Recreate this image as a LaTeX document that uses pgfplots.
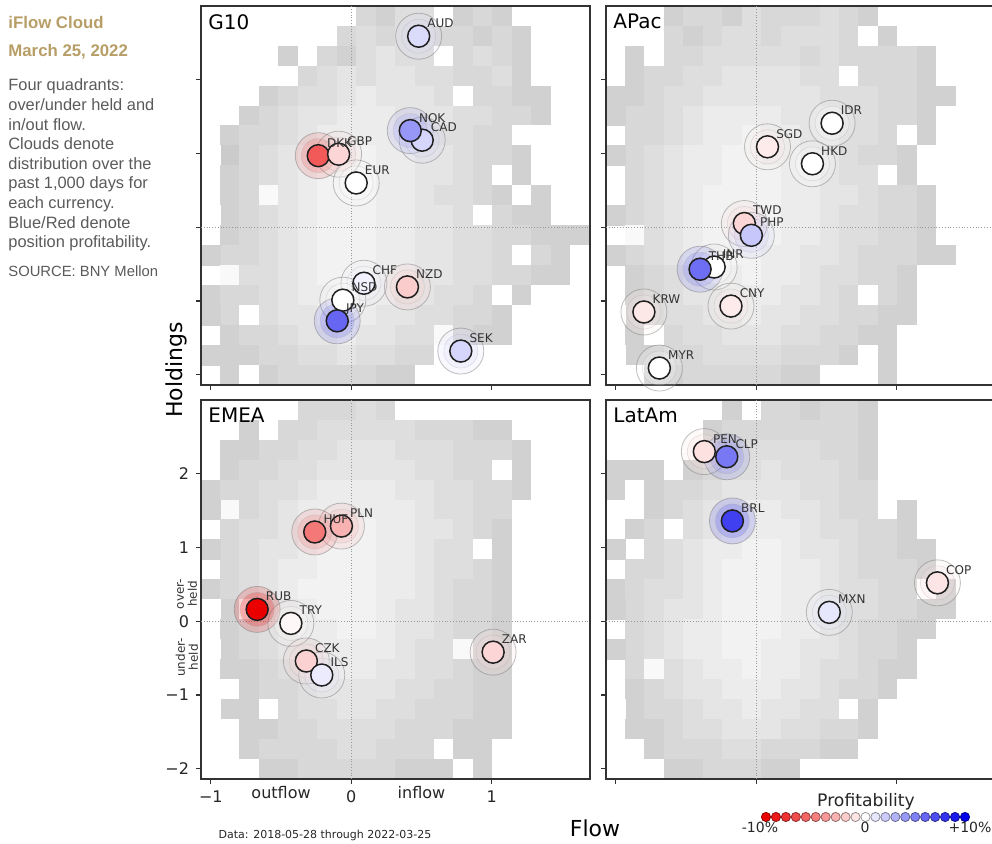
\documentclass[border=0pt]{standalone}
\usepackage{pgfplots}
\pgfplotsset{compat=1.18}
\usepackage{pgfplotstable}
\usepackage{fontspec}
\setmainfont{DejaVu Sans}
\newfontfamily\lib{Liberation Sans}
\definecolor{gold}{RGB}{183,158,103}
\definecolor{txtgray}{RGB}{90,90,90}
\definecolor{axgray}{RGB}{50,50,50}

% ---------- bubble data: x = flow, y = holdings, p = profitability (%) ----------
\pgfplotstableread{
x y p lab
0.48 2.59 1.4 AUD
0.505 1.18 1.6 CAD
0.42 1.31 4.1 NOK
-0.235 0.97 -6.5 DKK
-0.09 0.99 -1.6 GBP
0.035 0.60 0 EUR
0.09 -0.76 0.5 CHF
0.40 -0.81 -2.0 NZD
-0.06 -0.99 0 NSD
-0.10 -1.27 6.0 JPY
0.78 -1.68 1.6 SEK
}\bubG
\pgfplotstableread{
x y p lab
0.54 1.41 0 IDR
0.08 1.09 -0.8 SGD
0.40 0.86 0 HKD
-0.085 0.05 -1.6 TWD
-0.035 -0.11 2.2 PHP
-0.30 -0.54 0 INR
-0.40 -0.57 5.7 THB
-0.18 -1.07 -0.8 CNY
-0.80 -1.15 -0.9 KRW
-0.69 -1.91 0 MYR
}\bubA
\pgfplotstableread{
x y p lab
-0.07 1.29 -3.0 PLN
-0.26 1.21 -5.3 HUF
-0.67 0.16 -10 RUB
-0.43 -0.03 -0.3 TRY
-0.32 -0.54 -1.8 CZK
-0.21 -0.73 0.8 ILS
1.01 -0.42 -1.6 ZAR
}\bubE
\pgfplotstableread{
x y p lab
-0.37 2.30 -1.2 PEN
-0.21 2.23 5.3 CLP
-0.17 1.36 7.5 BRL
1.29 0.52 -1.0 COP
0.52 0.12 1.0 MXN
}\bubL

% ---------- cloud data: 20 columns x 19 rows, top row first (9 = empty) ----------
\pgfplotstableread[row sep=\\]{
c\\
9\\9\\9\\9\\9\\9\\9\\9\\3\\2\\4\\4\\9\\2\\3\\2\\9\\9\\9\\9\\
9\\9\\9\\9\\9\\9\\9\\3\\4\\3\\4\\4\\3\\3\\2\\3\\2\\9\\9\\9\\
9\\9\\9\\9\\2\\9\\3\\2\\4\\5\\4\\4\\9\\3\\4\\3\\2\\9\\9\\9\\
9\\9\\9\\9\\9\\3\\4\\5\\4\\5\\5\\4\\4\\3\\3\\4\\2\\9\\9\\9\\
9\\9\\9\\2\\3\\4\\4\\5\\6\\5\\5\\5\\4\\9\\3\\3\\2\\2\\9\\9\\
9\\9\\2\\3\\4\\5\\5\\6\\6\\6\\5\\5\\5\\4\\4\\3\\3\\2\\9\\9\\
9\\2\\3\\3\\4\\5\\6\\6\\6\\6\\6\\5\\4\\4\\3\\3\\9\\9\\9\\9\\
9\\1\\3\\4\\5\\6\\6\\6\\7\\6\\6\\5\\5\\4\\3\\3\\2\\9\\9\\9\\
9\\2\\3\\4\\5\\6\\7\\7\\7\\6\\6\\5\\5\\4\\3\\9\\2\\9\\9\\9\\
9\\2\\3\\8\\5\\6\\7\\7\\7\\6\\6\\5\\4\\4\\3\\2\\9\\2\\9\\9\\
9\\2\\3\\4\\5\\6\\7\\7\\7\\6\\6\\5\\5\\4\\9\\3\\2\\2\\9\\9\\
9\\2\\3\\4\\5\\6\\7\\7\\7\\6\\6\\5\\5\\4\\4\\3\\3\\2\\2\\2\\
2\\3\\3\\4\\5\\6\\7\\7\\7\\6\\6\\5\\5\\4\\4\\3\\9\\3\\2\\9\\
2\\8\\4\\4\\5\\6\\7\\7\\7\\6\\6\\5\\5\\4\\4\\3\\3\\2\\2\\9\\
2\\3\\3\\4\\5\\6\\6\\7\\6\\6\\5\\5\\4\\4\\3\\9\\2\\9\\9\\9\\
2\\3\\9\\4\\5\\5\\6\\6\\6\\5\\5\\4\\4\\3\\3\\2\\9\\9\\9\\9\\
2\\2\\3\\3\\4\\5\\5\\6\\5\\5\\4\\4\\8\\3\\2\\2\\9\\9\\9\\9\\
2\\2\\2\\3\\3\\4\\4\\5\\4\\4\\3\\3\\9\\9\\9\\9\\9\\9\\9\\9\\
2\\2\\9\\2\\3\\3\\3\\3\\3\\2\\2\\9\\9\\9\\9\\9\\9\\9\\9\\9\\
}\cloudG
\pgfplotstableread[row sep=\\]{
c\\
9\\9\\9\\2\\3\\3\\2\\4\\3\\3\\3\\4\\3\\2\\9\\9\\9\\9\\9\\9\\
9\\9\\9\\3\\2\\3\\4\\4\\3\\4\\4\\4\\3\\9\\2\\9\\9\\9\\9\\9\\
9\\2\\9\\3\\3\\4\\4\\4\\4\\4\\3\\4\\3\\3\\3\\3\\2\\9\\9\\9\\
9\\2\\3\\3\\4\\4\\5\\5\\5\\5\\4\\4\\9\\3\\3\\3\\2\\9\\9\\9\\
2\\2\\3\\4\\4\\5\\5\\5\\5\\5\\5\\4\\4\\4\\3\\3\\2\\2\\9\\9\\
2\\3\\3\\4\\5\\6\\6\\6\\6\\5\\5\\5\\4\\4\\3\\3\\2\\9\\9\\9\\
2\\3\\3\\4\\5\\6\\6\\7\\6\\6\\5\\5\\4\\4\\3\\9\\2\\9\\9\\9\\
2\\3\\4\\5\\6\\6\\7\\7\\6\\6\\5\\5\\4\\3\\3\\2\\9\\9\\9\\9\\
2\\3\\4\\5\\6\\6\\7\\7\\7\\6\\6\\5\\4\\4\\9\\2\\9\\9\\9\\9\\
9\\3\\4\\5\\6\\7\\7\\7\\7\\6\\6\\5\\5\\4\\3\\3\\2\\9\\9\\9\\
9\\3\\4\\5\\6\\7\\7\\7\\7\\6\\6\\5\\4\\4\\3\\3\\2\\9\\9\\9\\
2\\8\\4\\5\\6\\7\\7\\7\\7\\6\\6\\5\\4\\4\\3\\3\\2\\9\\9\\9\\
2\\3\\4\\5\\6\\6\\7\\7\\6\\6\\5\\5\\4\\3\\3\\3\\2\\2\\9\\9\\
2\\2\\3\\4\\5\\6\\6\\7\\6\\6\\5\\4\\4\\3\\3\\2\\9\\9\\9\\9\\
9\\2\\3\\4\\5\\5\\6\\6\\6\\5\\5\\4\\3\\9\\3\\2\\9\\9\\9\\9\\
9\\2\\3\\4\\4\\5\\5\\6\\5\\5\\4\\4\\3\\3\\2\\2\\9\\9\\9\\9\\
9\\2\\9\\3\\4\\4\\5\\5\\5\\4\\4\\3\\3\\2\\2\\9\\9\\9\\9\\9\\
9\\2\\2\\3\\3\\4\\4\\4\\4\\3\\3\\3\\2\\9\\2\\9\\9\\9\\9\\9\\
9\\9\\2\\2\\3\\3\\3\\3\\3\\2\\2\\9\\9\\9\\2\\9\\9\\9\\9\\9\\
}\cloudA
\pgfplotstableread[row sep=\\]{
c\\
9\\9\\9\\9\\9\\3\\3\\3\\4\\3\\9\\9\\9\\9\\9\\9\\9\\9\\9\\9\\
9\\9\\2\\9\\3\\3\\4\\4\\4\\4\\4\\3\\3\\3\\2\\2\\9\\9\\9\\9\\
9\\2\\2\\3\\3\\4\\4\\5\\5\\5\\4\\4\\4\\3\\3\\3\\2\\9\\9\\9\\
9\\2\\3\\3\\4\\4\\5\\5\\5\\5\\5\\4\\4\\3\\3\\9\\2\\9\\9\\9\\
2\\3\\3\\4\\4\\5\\6\\6\\6\\6\\5\\5\\4\\4\\3\\3\\2\\9\\9\\9\\
2\\8\\3\\4\\5\\6\\6\\6\\6\\6\\6\\5\\4\\4\\3\\3\\9\\9\\9\\9\\
2\\3\\4\\4\\5\\6\\6\\7\\7\\6\\6\\5\\5\\4\\3\\2\\9\\9\\9\\9\\
2\\3\\4\\5\\5\\6\\7\\7\\7\\6\\6\\5\\4\\4\\9\\2\\9\\9\\9\\9\\
2\\3\\4\\5\\6\\6\\7\\7\\7\\6\\6\\5\\4\\4\\3\\2\\9\\9\\9\\9\\
2\\3\\4\\5\\6\\7\\7\\7\\7\\6\\6\\5\\4\\3\\3\\2\\9\\9\\9\\9\\
9\\2\\9\\4\\5\\6\\7\\7\\7\\6\\5\\5\\4\\3\\3\\2\\9\\9\\9\\9\\
9\\2\\3\\4\\5\\6\\6\\7\\7\\6\\5\\5\\4\\3\\3\\2\\9\\9\\9\\9\\
9\\2\\3\\4\\5\\5\\6\\6\\6\\6\\5\\4\\4\\8\\3\\2\\9\\9\\9\\9\\
9\\2\\2\\3\\4\\5\\5\\6\\6\\5\\5\\4\\4\\3\\2\\2\\9\\9\\9\\9\\
9\\9\\2\\3\\3\\4\\5\\5\\5\\5\\4\\4\\3\\3\\2\\2\\9\\9\\9\\9\\
9\\2\\2\\9\\3\\4\\4\\5\\5\\4\\4\\3\\3\\3\\2\\2\\9\\9\\9\\9\\
9\\9\\2\\2\\3\\3\\4\\4\\4\\4\\3\\3\\3\\2\\2\\2\\9\\9\\9\\9\\
9\\9\\2\\3\\3\\3\\3\\4\\4\\3\\3\\3\\9\\2\\2\\9\\9\\9\\9\\9\\
9\\9\\9\\2\\2\\3\\3\\3\\3\\3\\2\\2\\2\\9\\2\\9\\9\\9\\9\\9\\
}\cloudE
\pgfplotstableread[row sep=\\]{
c\\
9\\9\\9\\9\\9\\9\\2\\9\\3\\3\\2\\3\\3\\2\\9\\9\\9\\9\\9\\9\\
9\\9\\9\\9\\9\\2\\3\\3\\3\\3\\3\\3\\3\\2\\9\\9\\9\\9\\9\\9\\
9\\9\\9\\9\\9\\3\\3\\4\\4\\4\\4\\3\\3\\2\\9\\9\\9\\9\\9\\9\\
2\\2\\2\\9\\2\\3\\4\\4\\5\\4\\4\\4\\3\\2\\9\\9\\9\\9\\9\\9\\
2\\9\\2\\3\\3\\4\\5\\5\\5\\5\\4\\4\\3\\3\\9\\9\\9\\9\\9\\9\\
9\\9\\2\\3\\4\\5\\5\\6\\6\\5\\5\\4\\3\\3\\9\\2\\9\\9\\9\\9\\
9\\2\\3\\9\\4\\5\\6\\6\\6\\6\\5\\4\\4\\3\\3\\2\\9\\9\\9\\9\\
2\\9\\3\\4\\5\\6\\6\\7\\7\\6\\5\\5\\4\\3\\3\\2\\2\\9\\9\\9\\
2\\3\\3\\4\\5\\6\\7\\7\\7\\6\\6\\5\\4\\3\\3\\3\\2\\9\\9\\9\\
2\\3\\4\\4\\5\\6\\7\\7\\7\\6\\6\\5\\4\\4\\3\\3\\9\\2\\9\\9\\
2\\3\\4\\5\\5\\6\\7\\7\\7\\6\\6\\5\\4\\4\\3\\3\\2\\2\\9\\9\\
2\\3\\4\\5\\6\\6\\7\\7\\7\\6\\6\\5\\4\\3\\3\\2\\2\\9\\9\\9\\
2\\3\\4\\5\\6\\6\\7\\7\\6\\6\\5\\5\\4\\3\\3\\2\\9\\9\\9\\9\\
2\\3\\8\\4\\5\\6\\6\\7\\6\\6\\5\\4\\4\\3\\2\\2\\9\\9\\9\\9\\
9\\2\\3\\4\\5\\5\\6\\6\\6\\5\\5\\4\\3\\3\\2\\9\\9\\9\\9\\9\\
9\\2\\3\\3\\4\\5\\5\\6\\5\\5\\4\\4\\9\\2\\9\\9\\9\\9\\9\\9\\
9\\2\\2\\3\\4\\4\\5\\5\\5\\4\\4\\3\\3\\2\\9\\9\\9\\9\\9\\9\\
9\\9\\2\\3\\3\\3\\4\\4\\3\\3\\3\\2\\2\\9\\9\\9\\9\\9\\9\\9\\
9\\9\\9\\2\\2\\3\\3\\3\\2\\2\\9\\9\\9\\9\\9\\9\\9\\9\\9\\9\\
}\cloudL

\pgfplotsset{
  table/cloudxy/.style={x=c, y=c, meta=c,
    x expr={-1.07+0.1385*(mod(\coordindex,20)+0.5)},
    y expr={3.0-0.270526*(floor(\coordindex/20)+0.5)}},
  panel/.style={scale only axis, width=194.5pt, height=189.5pt,
    xmin=-1.07, xmax=1.70, ymin=-2.14, ymax=3.0, anchor=south west},
  cloudax/.style={panel, hide axis,
    colormap={cloud}{rgb255=(196,196,196) rgb255=(255,255,255)},
    point meta min=0, point meta max=9},
  bubax/.style={panel, axis line style={axgray, line width=0.6pt},
    tick align=outside, tick pos=left, major tick length=2.5pt,
    tick style={axgray, line width=0.6pt},
    xtick={-1,0,1}, ytick={-2,-1,0,1,2}, xticklabels={}, yticklabels={},
    colormap={profit}{rgb255=(235,0,0) rgb255=(255,255,255) rgb255=(0,0,235)},
    point meta min=-10, point meta max=10, clip mode=individual,
    tick label style={font=\fontsize{8}{9}\selectfont, text=black!85}},
  halo/.style={scatter, only marks, mark=*, mark size=11.5pt, point meta=\thisrow{p},
    scatter/use mapped color={draw=black!55, draw opacity=0.45, fill=mapped color, fill opacity=0.16, line width=0.4pt}},
  halo2/.style={scatter, only marks, mark=*, mark size=8.5pt, point meta=\thisrow{p},
    scatter/use mapped color={draw=black!40, draw opacity=0.25, fill=mapped color, fill opacity=0.2, line width=0.3pt}},
  bub/.style={scatter, only marks, mark=*, mark size=5.5pt, point meta=\thisrow{p},
    scatter/use mapped color={draw=black!88, fill=mapped color, line width=0.75pt}},
  labs/.style={only marks, mark=none, point meta=explicit symbolic, nodes near coords,
    every node near coord/.append style={anchor=base west, xshift=4.2pt, yshift=4.3pt,
      font=\fontsize{6}{7}\selectfont, text=black!80, inner sep=0pt}},
  xhair/.style={densely dotted, gray!80, line width=0.4pt, forget plot},
  cloudplot/.style={scatter, only marks, mark=square*, mark size=4.98pt, point meta=explicit,
    scatter/use mapped color={draw=mapped color, fill=mapped color, line width=0.2pt}},
}

\begin{document}
\begin{tikzpicture}
\useasboundingbox (0,0) rectangle (496pt,422pt);

% ---------- left text ----------
\node[anchor=base west, inner sep=0pt, font=\lib\bfseries\fontsize{8.4}{10}\selectfont, text=gold] at (4pt,407.5pt) {iFlow Cloud};
\node[anchor=base west, inner sep=0pt, font=\lib\bfseries\fontsize{8.4}{10}\selectfont, text=gold] at (4pt,393.5pt) {March 25, 2022};
\foreach \t [count=\i] in {Four quadrants:, over/under held and, in/out flow., Clouds denote, distribution over the, {past 1,000 days for}, each currency., Blue/Red denote, position profitability.}{
  \node[anchor=base west, inner sep=0pt, font=\lib\fontsize{8.2}{9.8}\selectfont, text=txtgray] at (4pt,{376.5pt-(\i-1)*9.8pt}) {\t};
}
\node[anchor=base west, inner sep=0pt, font=\lib\fontsize{7.4}{9}\selectfont, text=txtgray] at (4pt,283.5pt) {SOURCE: BNY Mellon};

% ---------- G10 ----------
\begin{axis}[cloudax, at={(100.5pt,229.5pt)}]
\addplot[cloudplot] table[cloudxy] {\cloudG};
\end{axis}
\begin{axis}[bubax, at={(100.5pt,229.5pt)}]
\addplot[xhair] coordinates {(0,-2.14) (0,3.0)};
\addplot[xhair] coordinates {(-1.07,0) (1.70,0)};
\addplot[halo] table {\bubG};
\addplot[halo2] table {\bubG};
\addplot[bub] table {\bubG};
\addplot[labs] table[meta=lab] {\bubG};
\node[anchor=north west, inner sep=0pt, font=\fontsize{10}{12}\selectfont] at ([xshift=3.5pt,yshift=-4pt]rel axis cs:0,1) {G10};
\end{axis}

% ---------- APac ----------
\begin{axis}[cloudax, at={(303pt,229.5pt)}]
\addplot[cloudplot] table[cloudxy] {\cloudA};
\end{axis}
\begin{axis}[bubax, at={(303pt,229.5pt)}]
\addplot[xhair] coordinates {(0,-2.14) (0,3.0)};
\addplot[xhair] coordinates {(-1.07,0) (1.70,0)};
\addplot[halo] table {\bubA};
\addplot[halo2] table {\bubA};
\addplot[bub] table {\bubA};
\addplot[labs] table[meta=lab] {\bubA};
\node[anchor=north west, inner sep=0pt, font=\fontsize{10}{12}\selectfont] at ([xshift=3.5pt,yshift=-4pt]rel axis cs:0,1) {APac};
\end{axis}

% ---------- EMEA ----------
\begin{axis}[cloudax, at={(100.5pt,32.5pt)}]
\addplot[cloudplot] table[cloudxy] {\cloudE};
\end{axis}
\begin{axis}[bubax, at={(100.5pt,32.5pt)},
  xticklabels={−1,0,1}, yticklabels={−2,−1,0,1,2},
  extra x ticks={-0.5,0.5}, extra x tick labels={outflow,inflow},
  extra x tick style={major tick length=0pt}]
\addplot[xhair] coordinates {(0,-2.14) (0,3.0)};
\addplot[xhair] coordinates {(-1.07,0) (1.70,0)};
\addplot[halo] table {\bubE};
\addplot[halo2] table {\bubE};
\addplot[bub] table {\bubE};
\addplot[labs] table[meta=lab] {\bubE};
\node[anchor=north west, inner sep=0pt, font=\fontsize{10}{12}\selectfont] at ([xshift=3.5pt,yshift=-4pt]rel axis cs:0,1) {EMEA};
\node[rotate=90, align=center, inner sep=0pt, font=\fontsize{6}{6.5}\selectfont, text=black!80] at ([xshift=-7pt]axis cs:-1.07,0.37) {over-\\held};
\node[rotate=90, align=center, inner sep=0pt, font=\fontsize{6}{6.5}\selectfont, text=black!80] at ([xshift=-7pt]axis cs:-1.07,-0.49) {under-\\held};
\end{axis}

% ---------- LatAm ----------
\begin{axis}[cloudax, at={(303pt,32.5pt)}]
\addplot[cloudplot] table[cloudxy] {\cloudL};
\end{axis}
\begin{axis}[bubax, at={(303pt,32.5pt)}]
\addplot[xhair] coordinates {(0,-2.14) (0,3.0)};
\addplot[xhair] coordinates {(-1.07,0) (1.70,0)};
\addplot[halo] table {\bubL};
\addplot[halo2] table {\bubL};
\addplot[bub] table {\bubL};
\addplot[labs] table[meta=lab] {\bubL};
\node[anchor=north west, inner sep=0pt, font=\fontsize{10}{12}\selectfont] at ([xshift=3.5pt,yshift=-4pt]rel axis cs:0,1) {LatAm};
\end{axis}

% ---------- profitability legend ----------
\begin{axis}[scale only axis, width=99.5pt, height=4pt, at={(383pt,13.5pt)}, anchor=west,
  xmin=-10, xmax=10, ymin=-1, ymax=1, hide axis, clip=false,
  colormap={profit}{rgb255=(235,0,0) rgb255=(255,255,255) rgb255=(0,0,235)},
  point meta min=-10, point meta max=10]
\addplot[scatter, only marks, mark=*, mark size=2.3pt, point meta=x,
  scatter/use mapped color={draw=mapped color!60!black, fill=mapped color, line width=0.4pt}]
  coordinates {(-10,0) (-9,0) (-8,0) (-7,0) (-6,0) (-5,0) (-4,0) (-3,0) (-2,0) (-1,0) (0,0)
               (1,0) (2,0) (3,0) (4,0) (5,0) (6,0) (7,0) (8,0) (9,0) (10,0)};
\end{axis}
\node[anchor=base, inner sep=0pt, font=\fontsize{8.6}{10}\selectfont, text=black!85] at (433pt,18.5pt) {Profitability};
\node[anchor=base, inner sep=0pt, font=\fontsize{7}{8}\selectfont, text=black!85] at (380pt,5.5pt) {-10\%};
\node[anchor=base, inner sep=0pt, font=\fontsize{7}{8}\selectfont, text=black!85] at (432.5pt,5.5pt) {0};
\node[anchor=base, inner sep=0pt, font=\fontsize{7}{8}\selectfont, text=black!85] at (485pt,5.5pt) {+10\%};

% ---------- axis titles and note ----------
\node[rotate=90, font=\fontsize{11}{13}\selectfont] at (88pt,237pt) {Holdings};
\node[font=\fontsize{11}{13}\selectfont] at (297.5pt,8pt) {Flow};
\node[font=\fontsize{5.5}{6.5}\selectfont, text=black!85] at (162.5pt,4.5pt) {Data: 2018-05-28 through 2022-03-25};
\end{tikzpicture}
\end{document}
